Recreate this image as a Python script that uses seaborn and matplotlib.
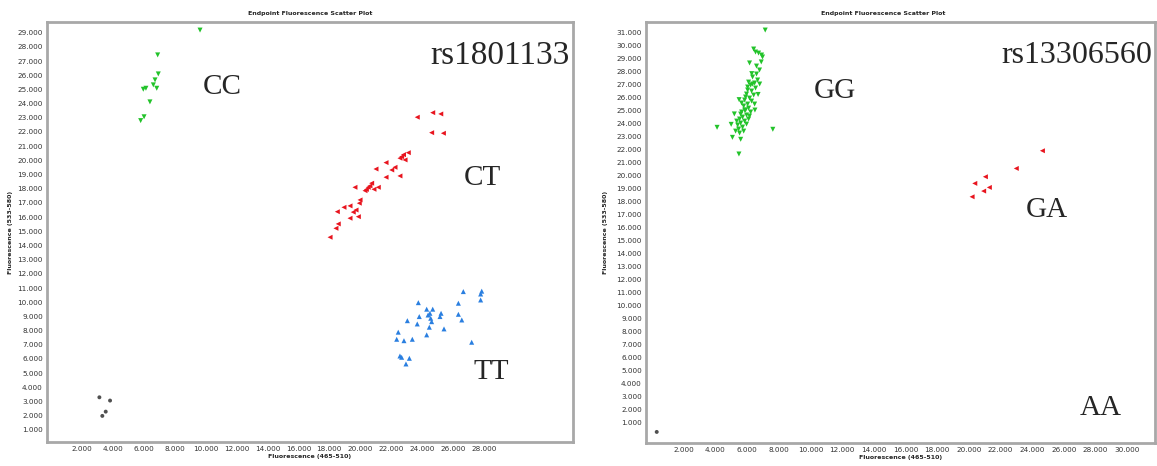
import pandas as pd
import matplotlib.pyplot as plt
import seaborn as sns

# rs1801133 - valori (fluorescenza)
cc_x = [9640, 6900, 6940, 6730, 6620, 6840, 5970, 6140, 6400, 6020, 5800]
cc_y = [29180, 27430, 26090, 25670, 25320, 25080, 25010, 25080, 24120, 23070, 22800]

ct_x = [23690, 24690, 25210, 24620, 25380, 23110, 22680, 22900, 22570, 21670, 21020,
        22040, 22250, 22570, 21670, 20740, 20630, 20520, 20890, 21170, 20310, 19660,
        19990, 19940, 19340, 18950, 18520, 19730, 19340, 19880, 18580, 18430, 18050,
        22800, 20400, 19550]
ct_y = [23040, 23360, 23270, 21950, 21910, 20540, 20260, 20030, 20150, 19840, 19390,
        19320, 19510, 18900, 18810, 18390, 18200, 18100, 17960, 18100, 17860, 18100,
        17210, 16980, 16790, 16690, 16380, 16500, 15920, 16030, 15520, 15210, 14580,
        20400, 17950, 16350]

tt_x = [26670, 27790, 27860, 27790, 23760, 24300, 24690, 26350, 26350, 26570, 23820,
        24510, 24560, 24620, 24390, 25230, 25160, 23050, 23690, 24470, 25420, 24300,
        22460, 22360, 22830, 23370, 27210, 22570, 22680, 23180, 22960]
tt_y = [10750, 10580, 10780, 10160, 9970, 9510, 9510, 9930, 9150, 8750, 8990,
        9220, 8870, 8630, 9100, 9220, 8990, 8700, 8470, 8240, 8120, 7700,
        7890, 7390, 7290, 7390, 7180, 6210, 6120, 6050, 5650]

nc1_x = [3130, 3820, 3540, 3320]
nc1_y = [3300, 3070, 2290, 1990]

# rs13306560
gg_x = [6420, 6540, 6730, 6920, 6980, 6160, 6790, 6600, 6350, 6670, 6480, 6230, 6100, 6040,
        6540, 6290, 5970, 6420, 6160, 5850, 6290, 6040, 5790, 6480, 6100, 5850, 5660, 6230,
        5970, 5720, 5530, 6100, 5850, 5600, 5410, 5970, 5720, 5470, 5280, 5790, 5530, 5910,
        6160, 5350, 5660, 5910, 6350, 6600, 6040, 5600, 7150, 4110, 7630, 5080, 5600, 5490,
        5500, 6700, 6800, 5200, 6500, 5000, 6900, 6300]
gg_y = [29690, 29460, 29380, 29230, 29080, 28620, 28080, 27770, 27540, 27310, 27080, 26920,
        27150, 26770, 26690, 26460, 26230, 26150, 25920, 25770, 25690, 25460, 25310, 25460,
        25150, 25000, 24850, 24850, 24620, 24460, 24310, 24310, 24150, 24000, 23850, 23920,
        23690, 23540, 23380, 23380, 23230, 25000, 24540, 24150, 25540, 26000, 27000, 28380,
        26540, 24690, 31150, 23670, 23520, 22900, 22750, 21620,
        25800, 26200, 27000, 24700, 25000, 23900, 28700, 27800]

ga_x = [24650, 23000, 21050, 20380, 21300, 20940, 20210]
ga_y = [21870, 20510, 19870, 19360, 19050, 18770, 18330]

nc2_x = [300]
nc2_y = [250]

xticks_left = list(range(2000, 30000, 2000))
yticks_left = list(range(1000, 30000, 1000))
xticks_right = list(range(2000, 32000, 2000))
yticks_right = list(range(1000, 32000, 1000))


def tabella(gruppi):
    righe = []
    for nome, xs, ys in gruppi:
        for x, y in zip(xs, ys):
            righe.append({'x': x, 'y': y, 'gruppo': nome})
    return pd.DataFrame(righe)


colori = {'hom1': '#22c32a', 'het': '#e8141e', 'hom2': '#2a7fe0', 'nc': '#505050'}
marker = {'hom1': 'v', 'het': '<', 'hom2': '^', 'nc': 'o'}
dimensioni = {'hom1': 13, 'het': 13, 'hom2': 13, 'nc': 8}


def formatta(ax, xticks, yticks, xlim, ylim, title_x, ypad):
    ax.set_xlim(*xlim)
    ax.set_ylim(*ylim)
    ax.set_xticks(xticks)
    ax.set_yticks(yticks)
    ax.set_xticklabels([f"{v/1000:.3f}" for v in xticks], fontsize=5.2)
    ax.set_yticklabels([f"{v/1000:.3f}" for v in yticks], fontsize=5.2)
    ax.tick_params(length=2, width=0.6, pad=1, colors='#888888', labelcolor='#333333')
    for s in ax.spines.values():
        s.set_color('#a8a8a8')
        s.set_linewidth(2)
    ax.set_title('Endpoint Fluorescence Scatter Plot', fontsize=4.5, fontweight='bold', x=title_x, pad=5)
    ax.set_xlabel('Fluorescence (465-510)', fontsize=4.5, fontweight='bold', labelpad=1)
    ax.set_ylabel('Fluorescence (533-580)', fontsize=4.5, fontweight='bold', labelpad=ypad)
    ax.legend_.remove()


sns.set_style('white')
plt.rcParams['font.family'] = ['DejaVu Sans']

fig = plt.figure(figsize=(11.57, 4.66), dpi=100)
ax1 = fig.add_axes([0.0406, 0.0515, 0.4546, 0.9013])
ax2 = fig.add_axes([0.5583, 0.0494, 0.4400, 0.9034])

df1 = tabella([('hom1', cc_x, cc_y), ('het', ct_x, ct_y), ('hom2', tt_x, tt_y), ('nc', nc1_x, nc1_y)])
sns.scatterplot(data=df1, x='x', y='y', hue='gruppo', style='gruppo', size='gruppo',
                sizes=dimensioni, palette=colori, markers=marker, linewidth=0, ax=ax1)
formatta(ax1, xticks_left, yticks_left, (-260, 33760), (150, 29750), 0.5, 3)

df2 = tabella([('hom1', gg_x, gg_y), ('het', ga_x, ga_y), ('nc', nc2_x, nc2_y)])
sns.scatterplot(data=df2, x='x', y='y', hue='gruppo', style='gruppo', size='gruppo',
                sizes=dimensioni, palette=colori, markers=marker, linewidth=0, ax=ax2)
formatta(ax2, xticks_right, yticks_right, (-380, 31760), (-600, 31770), 0.466, 6)

serif = ['Liberation Serif', 'DejaVu Serif']
ax1.text(29050, 27400, 'rs1801133', fontsize=24, family=serif, ha='center', va='center')
ax1.text(11100, 25200, 'CC', fontsize=21, family=serif, ha='center', va='center')
ax1.text(27900, 18750, 'CT', fontsize=21, family=serif, ha='center', va='center')
ax1.text(28500, 5090, 'TT', fontsize=21, family=serif, ha='center', va='center')

ax2.text(26800, 29200, 'rs13306560', fontsize=23, family=serif, ha='center', va='center')
ax2.text(11570, 26500, 'GG', fontsize=21, family=serif, ha='center', va='center')
ax2.text(24900, 17300, 'GA', fontsize=21, family=serif, ha='center', va='center')
ax2.text(28300, 2080, 'AA', fontsize=21, family=serif, ha='center', va='center')

plt.savefig('out.png', dpi=100)
plt.close()
